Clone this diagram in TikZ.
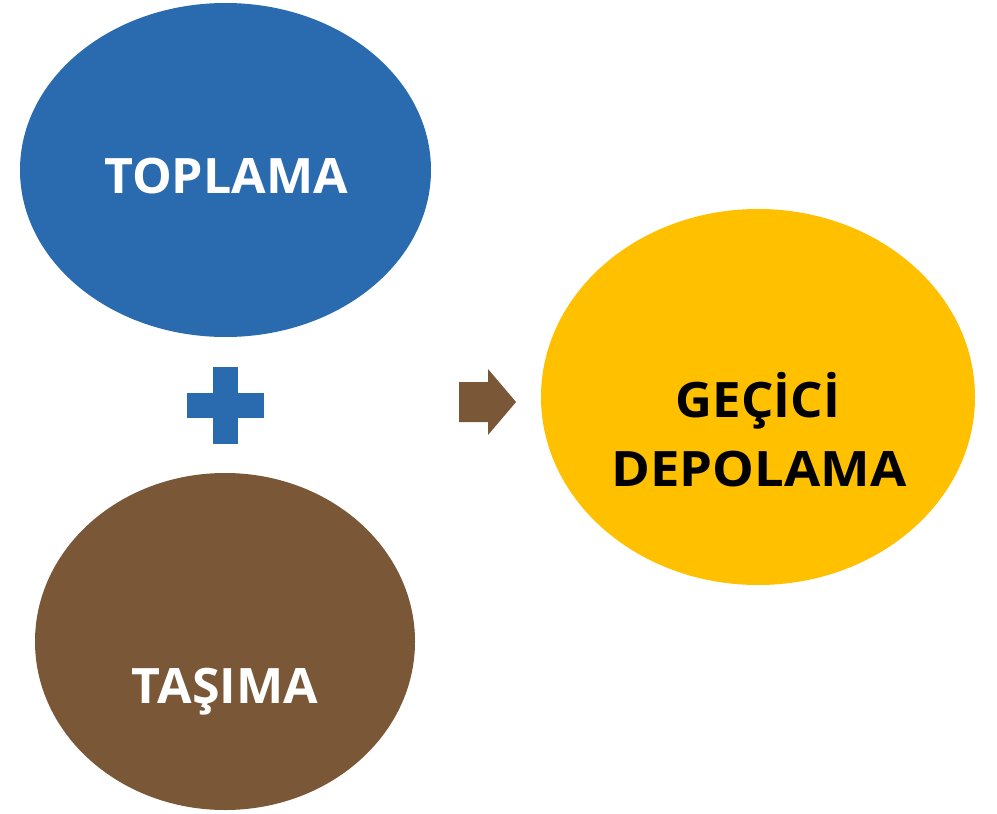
\documentclass[tikz,border=0pt]{standalone}
\usepackage{fontspec}
\setmainfont{Open Sans}
\newfontfamily\lsA[FakeStretch=1.026]{Open Sans}
\newfontfamily\lsB[FakeStretch=1.045]{Open Sans}
\newfontfamily\lsC[FakeStretch=1.077]{Open Sans}
\usetikzlibrary{shapes.geometric}
\definecolor{cblue}{HTML}{2A6BB0}
\definecolor{cbrown}{HTML}{7A5737}
\definecolor{cyellow}{HTML}{FFC000}
\begin{document}
\begin{tikzpicture}[x=1bp,y=-1bp,
  blob/.style={ellipse,draw=none,inner sep=0pt},
  lbl/.style={anchor=base,inner sep=0pt,font=\fontsize{49}{58}\selectfont\bfseries}]
\useasboundingbox[fill=white] (0,0) rectangle (997,814);
\node[blob,fill=cblue,minimum width=411bp,minimum height=334bp] (top) at (225.5,170) {};
\node[blob,fill=cbrown,minimum width=380bp,minimum height=337bp] (tas) at (225,641.5) {};
\node[blob,fill=cyellow,minimum width=434bp,minimum height=376bp] (gec) at (758,397) {};
\node[lbl,text=white] (t1) at (226,193) {\lsA\bfseries TOPLAMA};
\node[lbl,text=white] (t2) at (225,703) {\lsA\bfseries TAŞIMA};
\node[lbl,text=black] (t3) at (758,417) {\lsB\bfseries GEÇİCİ};
\node[lbl,text=black] (t4) at (759,486) {\lsC\bfseries DEPOLAMA};
% plus sign
\fill[cblue] (213,367) rectangle (238,444);
\fill[cblue] (187,393) rectangle (264,418);
% arrow
\fill[cbrown] (459,382) -- (488,382) -- (488,369) -- (516,402) -- (488,435) -- (488,422) -- (459,422) -- cycle;
\end{tikzpicture}
\end{document}
